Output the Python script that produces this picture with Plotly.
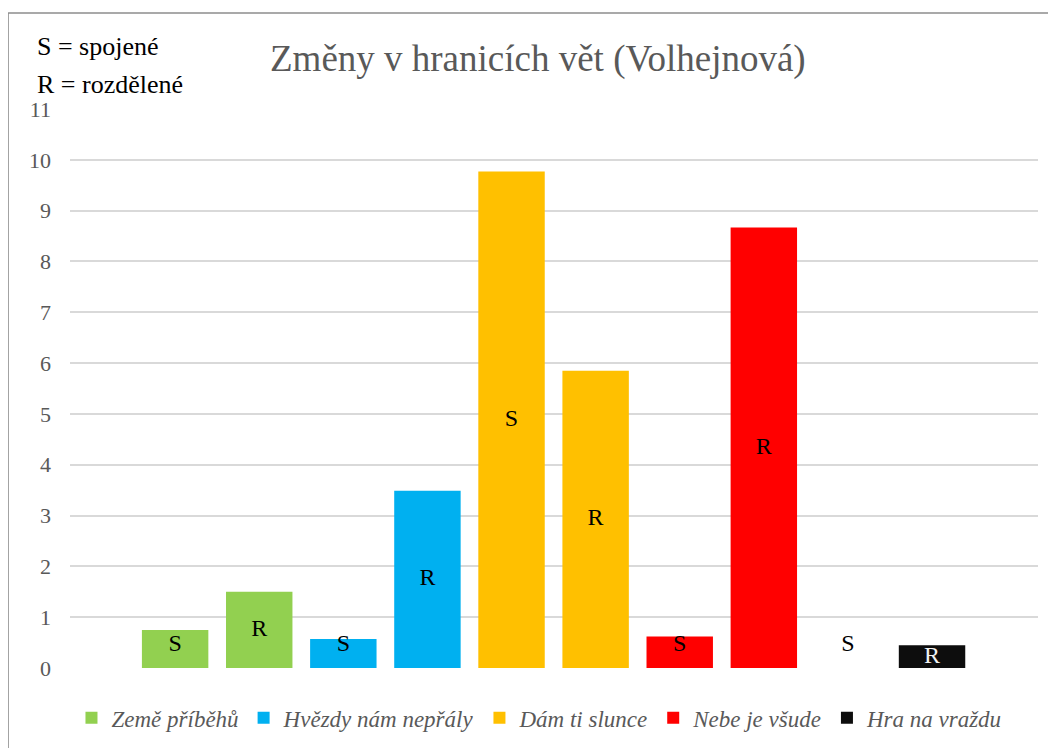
import plotly.graph_objects as go

# data
groups = ["Země příběhů", "Hvězdy nám nepřály", "Dám ti slunce", "Nebe je všude", "Hra na vraždu"]
colors = ["#92D050", "#00B0F0", "#FFC000", "#FF0000", "#0D0D0D"]
spojene = [0.75, 0.57, 9.77, 0.62, 0.0]      # S bars
rozdelene = [1.50, 3.49, 5.85, 8.67, 0.45]   # R bars
y_ticks = list(range(0, 12))

SERIF = "Liberation Serif, Times New Roman, serif"
GRAY = "#595959"

fig = go.Figure()

lbl_x, lbl_y, lbl_t, lbl_c = [], [], [], []
for i, name in enumerate(groups):
    xs = [2 * i, 2 * i + 1]
    vals = [spojene[i], rozdelene[i]]
    fig.add_trace(go.Bar(
        x=xs, y=vals, name=name,
        marker=dict(color=colors[i], line=dict(width=0)),
        width=0.79,
        hoverinfo="skip",
    ))
    for x, v, t in zip(xs, vals, ["S", "R"]):
        lbl_x.append(x)
        # Excel keeps the S labels off the axis line
        lbl_y.append(max(v / 2, 0.45) if t == "S" else v / 2)
        lbl_t.append(t)
        lbl_c.append("#F2F2F2" if (colors[i] == "#0D0D0D" and v > 0) else "black")

fig.add_trace(go.Scatter(
    x=lbl_x, y=lbl_y, text=lbl_t, mode="text",
    textfont=dict(family=SERIF, size=24, color=lbl_c),
    showlegend=False, hoverinfo="skip", cliponaxis=True,
))

fig.update_layout(
    width=1056, height=748,
    font=dict(family=SERIF),
    margin=dict(l=62, r=26, t=101, b=88, autoexpand=False),
    paper_bgcolor="white", plot_bgcolor="white",
    barmode="overlay",
    showlegend=True,
    legend=dict(
        orientation="h", x=0.485, xanchor="center", y=-0.089, yanchor="middle",
        font=dict(family=SERIF, size=23, color=GRAY, style="italic"),
        itemwidth=30, traceorder="normal",
    ),
    xaxis=dict(
        range=[-1.25, 10.26], showticklabels=False, showgrid=False,
        zeroline=False, showline=False, fixedrange=True,
    ),
    yaxis=dict(
        range=[0, 11], tickvals=y_ticks, showgrid=True, gridcolor="#D9D9D9", gridwidth=1.5,
        zeroline=False, showline=False, ticks="", ticklabelstandoff=18,
        tickfont=dict(family=SERIF, size=22, color=GRAY),
    ),
    annotations=[
        dict(text="Změny v hranicích vět (Volhejnová)", xref="paper", yref="paper",
             x=0.483, y=1.09, xanchor="center", yanchor="middle", showarrow=False,
             font=dict(family=SERIF, size=37, color=GRAY)),
        dict(text="S = spojené", xref="paper", yref="paper",
             x=-0.036, y=1.111, xanchor="left", yanchor="middle", align="left", showarrow=False,
             font=dict(family=SERIF, size=26, color="black")),
        dict(text="R = rozdělené", xref="paper", yref="paper",
             x=-0.036, y=1.043, xanchor="left", yanchor="middle", align="left", showarrow=False,
             font=dict(family=SERIF, size=26, color="black")),
    ],
    shapes=[
        dict(type="line", xref="paper", yref="paper", x0=-0.064, x1=1.1, y0=1.1717, y1=1.1717,
             line=dict(color="#8C8C8C", width=1.5)),
        dict(type="line", xref="paper", yref="paper", x0=-0.064, x1=-0.064, y0=-0.3, y1=1.1717,
             line=dict(color="#8C8C8C", width=1.5)),
    ],
)

fig.write_html("out.html")
